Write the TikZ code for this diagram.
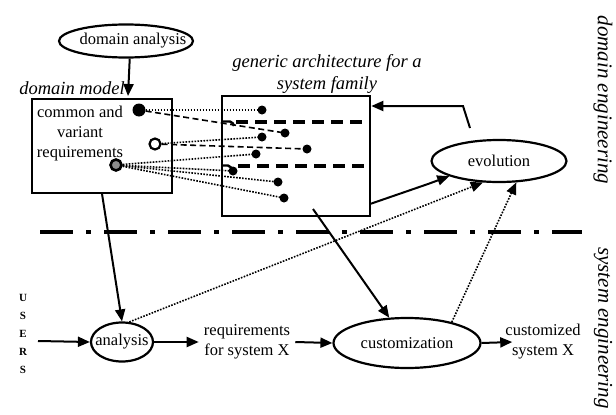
\documentclass[tikz,border=0pt]{standalone}
\usepackage{fontspec}
\setmainfont{Liberation Serif}
\usetikzlibrary{shapes.geometric,arrows.meta,calc}
\begin{document}
\begin{tikzpicture}[x=1pt,y=-1pt,
  txt/.style={font=\fontsize{16.5}{20}\selectfont, inner sep=1pt, align=center},
  itl/.style={font=\fontsize{18.5}{22}\selectfont\itshape, inner sep=0pt, align=center},
  side/.style={font=\fontsize{21}{25}\selectfont\itshape, inner sep=0pt, rotate=-90},
  ell/.style={draw, ellipse, line width=2.2pt, inner sep=0pt},
  box/.style={draw, rectangle, inner sep=0pt},
  tip/.style={-{Triangle[length=12pt,width=10pt]}},
  arr/.style={line width=2pt, tip},
  dotc/.style={line width=1.6pt, dash pattern=on 1.6pt off 1.4pt},
  dashc/.style={line width=1.6pt, dash pattern=on 6pt off 3.5pt},
  bigdash/.style={line width=3.2pt, dash pattern=on 12pt off 7pt},
  dashdot/.style={line width=4pt, dash pattern=on 33pt off 13pt on 5pt off 13pt},
  dot/.style={circle, fill=black, inner sep=0pt, minimum size=9pt},
]
\useasboundingbox (0,0) rectangle (616,415);

% ---------- domain engineering part ----------
\node[ell, minimum width=134pt, minimum height=33pt] (da) at (126,41) {};
\node[txt] (datext) at (133,41) {domain analysis};

\node[itl] (dmlabel) at (72,88) {domain model};
\node[box, line width=1.6pt, minimum width=140pt, minimum height=94pt] (dm) at (102,146) {};
\node[txt] (dmtext) at (80,134) {common and\\variant\\requirements};

\node[itl] (archlabel) at (327,74) {generic architecture for a\\system family};
\node[box, line width=2.6pt, minimum width=148pt, minimum height=120pt] (arch) at (296,156) {};

\node[ell, minimum width=135pt, minimum height=42pt] (ev) at (499,161) {};
\node[txt] (evtext) at (ev) {evolution};

% thick dashed separators inside architecture box
\draw[bigdash] (236,122) -- (368,122);
\draw[bigdash] (238,166) -- (368,166);
\draw[line width=2.4pt, rounded corners=2pt] (223,121.5) -- (232,121.5) -- (234,126);
\draw[line width=2.4pt, rounded corners=2pt] (223,165.5) -- (230,165.5) -- (232,170);

% requirement circles
\node[circle, fill=black, inner sep=0pt, minimum size=13pt] (c1) at (139,110) {};
\node[circle, draw, line width=2.2pt, fill=white, inner sep=0pt, minimum size=11pt] (c2) at (155,144) {};
\node[circle, draw, line width=2.6pt, fill=black!45, inner sep=0pt, minimum size=11pt] (c3) at (116,165) {};

% architecture dots
\coordinate (p1) at (262,110);
\coordinate (p2) at (285,133);
\coordinate (p3) at (262,137);
\coordinate (p4) at (307,149);
\coordinate (p5) at (256,154);
\coordinate (p6) at (233,171);
\coordinate (p7) at (278,182);
\coordinate (p8) at (284,198);

\draw[dotc] (c1) -- (p1);
\draw[dashc] (c1) -- (p2);
\draw[dotc] (c2) -- (p3);
\draw[dashc] (c2) -- (p4);
\draw[dotc] (c3) -- (p5);
\draw[dotc] (c3) -- (p6);
\draw[dotc] (c3) -- (p7);
\draw[dotc] (c3) -- (p8);

\foreach \i in {1,...,8} { \node[dot] (d\i) at (p\i) {}; }

% arrows in the domain engineering part
\coordinate (dmin) at (128,96);
\draw[arr] (da.-78) -- (dmin);

\coordinate (evtop) at (470,128);
\coordinate (evbend) at (463,106);
\draw[arr] (evtop) -- (evbend) -- (evbend -| arch.east);

\coordinate (archright) at (370,204);
\coordinate (evmid) at (428,184);
\draw[arr] (archright) -- (evmid) -- (ev.197);

% separator
\draw[dashdot] (40,232) -- (582,232);

% side labels
\node[side] (domeng) at (603,100) {domain engineering};
\node[side] (syseng) at (603,328) {system engineering};

% ---------- system engineering part ----------
\node[font=\fontsize{11}{18}\selectfont\bfseries, align=center, inner sep=0pt] (users) at (23,334) {U\\S\\E\\R\\S};
\coordinate (usersout) at (38,341);

\node[ell, minimum width=62pt, minimum height=39pt] (an) at (122,342) {};
\node[txt, inner sep=0pt] (antext) at (an) {analysis};

\node[txt, inner sep=5pt] (req) at (247,342) {requirements\\for system X};

\node[ell, minimum width=147pt, minimum height=50pt] (cu) at (407,343) {};
\node[txt] (cutext) at (cu) {customization};

\node[txt, inner sep=0pt] (cz) at (543,342) {customized\\system X};

\draw[arr] (usersout) -- (an.west);
\draw[arr] (an.east) -- (req.west);
\draw[arr] (req.east) -- (cu.west);
\draw[arr] (cu.east) -- ($(cz.west)+(7,0)$);

\draw[arr] (dm.south) -- (an.north);

\coordinate (archout) at (313,209);
\draw[arr] (archout) -- (cu);

\draw[dotc, tip] (an.70) -- (ev.233);
\draw[dotc, tip] (cu.25) -- (ev.-51);

\end{tikzpicture}
\end{document}
